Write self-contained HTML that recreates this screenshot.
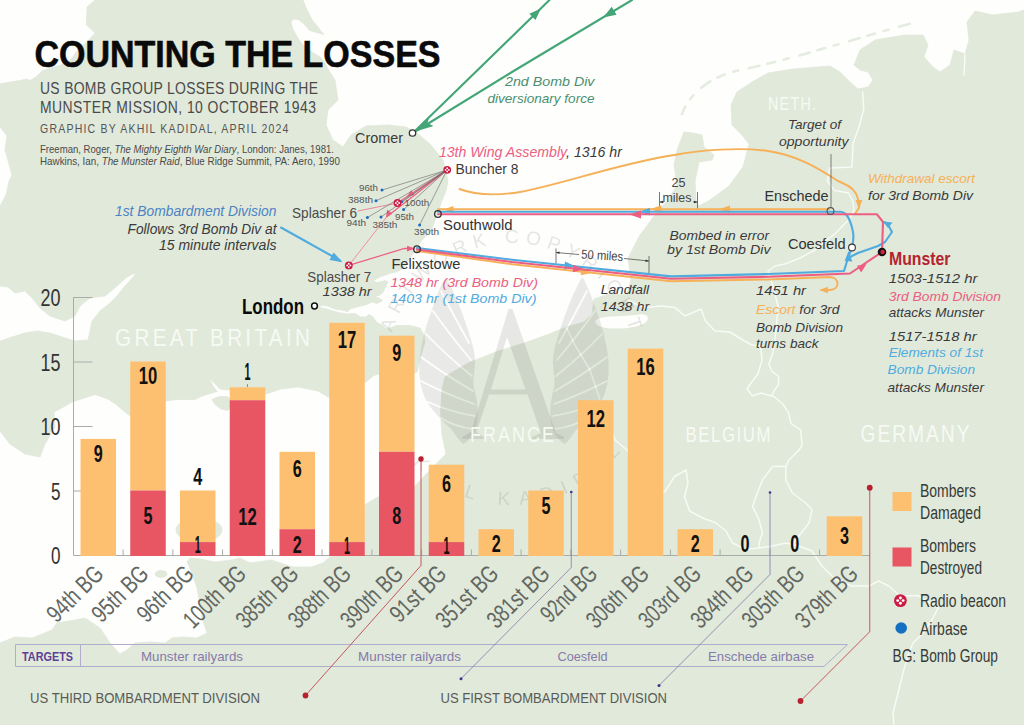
<!DOCTYPE html>
<html><head><meta charset="utf-8"><title>Counting the Losses</title>
<style>
html,body{margin:0;padding:0;background:#fefefd;}
svg{display:block;}
text{font-family:"Liberation Sans",sans-serif;}
.it{font-style:italic;}
.b{font-weight:bold;}
</style></head><body>
<svg width="1024" height="725" viewBox="0 0 1024 725">
<rect width="1024" height="725" fill="#fefefd"/>

<g fill="#e1e9da" stroke="#e1e9da" stroke-width="0.8" stroke-linejoin="round">
<polygon points="95,0 303,0 307,10 312,19.5 318.8,28.3 324,34.8 321.5,33.8 316,32.3 309,30.3 307,27.3 302.2,22.5 298.3,19.5 293.4,19 291,22.5 292.5,28.3 297.3,37.1 302.2,44 308,48.8 313,52.7 320.8,57.6 324.7,62.5 328.6,70 335,80 338,100 328,110 326,125 333,140 343,147 351,135 366,126 388,125 406,127 416,132 431,145 443,160 448,181 446,191 441,203 438,213 431,231 421,241 416.5,249 410,258 404.8,267.6 396.6,271.7 389.7,273.5 380,277 373,280.7 377,282.5 385.5,280.5 388,282 385.5,287 382.8,292.4 380,295 375,296.5 380,298.5 382.8,300.7 377,303.4 371.7,302 366,304.8 360.7,306 355,307.6 349.7,309 348,311.5 341.4,310 334.5,309 327.6,306 320,305.5 320,307.5 327,309 334.5,311.5 341,313 348,314 355,313.5 360.7,317 366,317 369,314.5 373,317 377,322.7 382.8,325.5 386,329 389.7,328 396.6,325.5 410,325.5 420,328 424,335 425,342 421,355 417,372 400,378 378,374 373,376 366,382 350,388 328,397 318,391 298,387 281,389 266,394 250,392 229,390 220,389 209,377.5 213,386 217,391.5 202,396 195,399.5 177,399.5 166,401 130,416 125,412 116.5,404.8 108,399 95,394.5 72,402 60,409 54,412 55,427 45,444 40,457 25,454 10,444 0,431 0,341 12,337 25,333 37,331 50,333 62,337 75,341 88,340 90,331 92,321 100,311 110,303 117,296 125,286 135,275 135,273 127,277 117,286 105,296 90,298 80,306 75,316 65,321 50,316 40,308 32,298 25,291 15,293 8,287 0,286 0,206 6,195 9,181 12,175 5,150 7,136 0,127 0,84 10,82 20,80.5 27,79 30,80.5 36,77 42.5,70.5 52,67.5 61,65 70,60.5 79,48.5 87,42 95,33 86.5,25 87,7"/>
<polygon points="1024,10 1024,725 0,725 0,643 15,637 32,638 52,630 57,623 75,620 85,618 100,628 110,643 120,654 127,650 135,643 150,642 165,643 172,638 182,637 197,638 207,633 202,618 200,605 197,588 192,573 187,562 190,558 200,559 215,562 232,560 240,558 250,563 271,560 293,567 311,567 323,563 330,557 340,535 366,504 378,497 414,487 430,470 446,454 442,435 440.5,412 442,389 445,377 453.5,371.5 468,363 497,351.5 526,342.5 549,334 566,327 584,322 592,314 594,299 607,294.5 627,294.5 631,280 628,258 640,235 655,215 668,200 677,185 674,165 677,150 684,132 693,133 702,135 704,147 714,155 712,160 699,162 695,181 696,200 699,206 710,200 729,186 743,167 749,144 742,135 732,125 731,105 737,92 752,82 768,73 793,69 830,66 840,72 850,82 858,89 868,87 873,80 868,72 860,70 854,65 860,50 875,40 905,35 923,35 928,45 924,57 933,67 940,72 950,65 954,50 965,54 969,40 967,22 975,11 993,15 1018,12"/>
<ellipse cx="199" cy="530" rx="23" ry="12"/>
<polygon points="212,399.5 219,396.5 227,396.5 232,400 231,406 228,410.5 221,409 215,404.5"/>
<ellipse cx="161" cy="574" rx="6" ry="3.5"/>
</g>
<path d="M596,320 C603,315 622,317 636,315 C645,313 650,316 647,321 C642,327 626,329 612,328.5 C602,328 593,325 596,320 Z" fill="#fefefd"/>
<path d="M682,114 C690,92 712,76 740,70 C790,60 850,40 916,22" fill="none" stroke="#e1e9da" stroke-width="2.6" stroke-dasharray="8 9 5 11 11 8" stroke-linecap="round" opacity="0.85"/>
<g fill="none" stroke="#f8faf5" stroke-width="1.5" stroke-linejoin="round" stroke-linecap="round">
<polyline points="862.6,92 863.8,108.6 859,127 853,143.7 852,167 829.8,168 827.5,181 834.5,190.6 848.6,193 853,202 854,211 848.5,220 841,227.4 836,232.8 827,240 815,250 800,258 785,264 775,266 768,271 773,286 778,306 776,331 773,352 769,364"/>
<polyline points="760.7,346 762,360 758,374 749.6,384.8 747,389 752.4,395.9 760.7,393 771.7,395.9 774.5,390 778.6,384.8 778.6,376.5 771.7,371 769,364"/>
<polyline points="628,300 640,306 647.6,307.6 661,306 675,307.6 684.8,315.9 692,313 701,309 705.5,321 715,331 730,332 741,339 752,345 760.7,346"/>
<polyline points="771.7,395.9 774.5,397 782.8,404 788.3,412.4 791,423.4 800.7,430 802,445.5 799,450 789,460 785.8,466.6"/>
<polyline points="785.8,466.6 772.5,466.6 762.5,480 756,496.4 752.6,506.4 759,519.7 762.5,533 759,543 759,548"/>
<polyline points="785.8,466.6 785.8,480 792.4,493 805.7,503 812,509.7 809,523 799,536 792.4,544.6"/>
<polyline points="566,327 575,345 590,370 600,400 615,440 627,450 640,470 655,490 664.5,492 674.5,476.5 686,470 688,483 684.5,496.4 689.5,511 702.8,518 716,523 726,531 732.6,543 746,549.6 759,548 772.5,546 785.8,543 799,546 812,551 822,566 835.6,579.5 852,586 868.8,586 878.7,581 888.7,586 900,596 918,595.5 938,608"/>
<polyline points="938,608 933,618 923,633 913,643 908,655.5 903,673 898,693 893,713 894,725"/>
<polyline points="965,54 964,75"/>
</g>
<defs><mask id="wingm" maskUnits="userSpaceOnUse" x="400" y="260" width="130" height="200">
<path d="M445.4,277 C440,287 436,297 432,310 C427,322 422,340 420,356 C418,372 420,388 426,400 C432,411 442,420 450,428 C455,433 458,440 463,444 C468,442 474,434 476,427 C479,415 478,402 474,388 C472,378 476,368 475,358 C474,348 471,340 468,330 C464,318 458,300 452,289 C450,284 447,279 445.4,277 Z" fill="#fff"/>
<g stroke="#000" stroke-width="1.7" fill="none" stroke-linecap="round">
<path d="M469,343 Q455,318 441,291"/>
<path d="M471,360 Q450,335 433,311"/>
<path d="M472,376 Q446,355 426,334"/>
<path d="M473,391 Q444,374 421,357"/>
<path d="M474,404 Q446,394 421,381"/>
<path d="M475,416 Q450,412 428,402"/>
<path d="M473,429 Q455,427 441,418"/>
</g></mask></defs>
<rect x="400" y="260" width="130" height="200" fill="#6e736c" opacity="0.14" mask="url(#wingm)"/>
<g transform="translate(1028,0) scale(-1,1)"><rect x="400" y="260" width="130" height="200" fill="#6e736c" opacity="0.14" mask="url(#wingm)"/></g>
<g opacity="0.16" fill="#6e736c" stroke="none">
<path d="M508.5,309 L512.5,309 L556,433 L564,437 L564,439 L532,439 L532,437 L541,433 L527.5,394.5 L489,394.5 L476.5,432 L484,437 L484,439 L462,439 L462,437 L471,432 Z M491,389.5 L525.5,389.5 L507,337 Z"/>
</g>
<defs><path id="wmtop" d="M392.3,332.8 A124,124 0 0 1 631.8,337.0"/><path id="wmbot" d="M398.5,446.2 A138,138 0 0 0 624.5,446.2"/></defs>
<g fill="#6e736c" opacity="0.17" font-size="19">
<text textLength="318" lengthAdjust="spacing"><textPath href="#wmtop">ARTWORK COPYRIGHT</textPath></text>
<text textLength="258" lengthAdjust="spacing"><textPath href="#wmbot">AKHIL KADIDAL</textPath></text>
</g>
<g stroke="#555" stroke-width="0.8" fill="none">
<path d="M659.5,192 V210 M697.5,192 V210 M659.5,202 H664 M693,202 H697.5"/>
<path d="M556,248.5 V263.5 M649,256 V273.5 M556,252.5 L579,254.5 M624,258.5 L649,261"/>
</g>
<path d="M659.5,202 l3.5,-1.3 v2.6z M697.5,202 l-3.5,-1.3 v2.6z M556,252.5 l3.6,-1 l-0.2,2.6z M649,261 l-3.6,1 l0.2,-2.6z" fill="#333"/>
<g stroke="#44a576" stroke-width="2.1" fill="none" stroke-linecap="round"><path d="M549.5,0 L416,130"/><path d="M632,0 L512,72 L416,131"/></g>
<g fill="#44a576">
<path d="M415.5,131.5 L429.5,116.5 L427.5,123 L433.5,126 Z"/>
<path transform="translate(541,8.5) rotate(-44.2)" d="M0,0 L-12,-4.4 L-12,4.4 Z"/>
<path transform="translate(603,17.4) rotate(149)" d="M0,0 L-13,-4.6 L-13,4.6 Z"/>
</g>
<g stroke="#f6b057" stroke-width="1.9" fill="none" stroke-linecap="round" stroke-linejoin="round">
<path d="M459.5,189 C475,195 495,196 520,192 C560,185 620,163 674.5,155 C700,150 740,147 768,151 C795,155 815,166 838,181 C850,186 859,190 859,208 L855.5,213"/>
<path d="M438,209.3 H829"/>
<path d="M417,251 L512,264.2 L671,281.2 L768,279.5 L830,277 C840,277.5 840,289.5 830,290 H824"/>
</g>
<g fill="#f6b057">
<path d="M859,209 l-3.4,-9 h6.8z"/>
<path d="M819,290 l9,-3.3 v6.6z"/>
<path transform="translate(443.5,209.5) rotate(180)" d="M0,0 L-10,-3.5 L-10,3.5 Z"/>
<path transform="translate(650.5,209.1) rotate(180)" d="M0,0 L-11,-3.8 L-11,3.8 Z"/>
<path transform="translate(719,209.3) rotate(180)" d="M0,0 L-11,-3.8 L-11,3.8 Z"/>
<path transform="translate(592,272.7) rotate(6.1)" d="M0,0 L-11,-3.8 L-11,3.8 Z"/>
</g>
<g stroke="#50abdf" stroke-width="2.1" fill="none" stroke-linecap="round" stroke-linejoin="round">
<path d="M438,211.8 H840 C848,212 851,222 853,232 C855,244 850,252 848,258"/>
<path d="M417,248 L512,259.8 L671,276.4 L768,274 L844,271 L848,258 L858,253 L878,246 L885,242 L892,232 L887,223 L883,222"/>
<path d="M281,227.5 L340,260.5"/>
</g>
<g fill="#50abdf">
<path transform="translate(639,211.8) rotate(180)" d="M0,0 L-11,-3.8 L-11,3.8 Z"/>
<path transform="translate(576,266.5) rotate(6.1)" d="M0,0 L-11.5,-3.9 L-11.5,3.9 Z"/>
<path d="M848.5,251 l3.8,10.5 l-7.6,-0.6z"/>
<path d="M883,221.5 l9.5,1 l-4.5,5.6z"/>
<path d="M342.5,262.3 l-13,-2.4 l4.2,-7.4z"/>
</g>
<g stroke="#ec5f82" stroke-width="2.1" fill="none" stroke-linecap="round" stroke-linejoin="round">
<path d="M438,214.3 H877 L883,222 L882,252 L850,273.5 L768,276.8 L671,278.8 L512,262 L417,249.5"/>
</g>
<g stroke="#ec5f82" stroke-width="1.2" fill="none" stroke-linecap="round" stroke-linejoin="round">
<path d="M447,170 L397.5,203"/>
<path d="M447,170 L387,216.5"/>
<path d="M387,216.5 L348.8,265.4" stroke-width="0.9" stroke="#f0859d"/>
<path d="M348.8,265.4 L404.5,248.4 L414,248.6"/>
<path d="M358,211 L397.5,203" stroke-width="0.7"/>
</g>
<g fill="#ec5f82">
<path transform="translate(629.5,214.5) rotate(180)" d="M0,0 L-11.5,-3.9 L-11.5,3.9 Z"/>
<path transform="translate(584,269.6) rotate(6.1)" d="M0,0 L-11,-3.8 L-11,3.8 Z"/>
<path d="M866.5,264 l-9.5,1.8 l4.2,6.6z"/>
<path d="M386,217.5 l1.2,-8 l5.2,4.2z"/>
<path d="M406.5,197 l7.8,-2.2 l-3,-4.6z"/>
<path d="M415,248.6 l-8,-2.9 l0,5.8z"/>
</g>
<g stroke="#666" stroke-width="0.6" fill="none">
<path d="M447,170 L382,190"/>
<path d="M447,170 L376,200.7"/>
<path d="M447,170 L367.4,217.6"/>
<path d="M447,170 L381,217"/>
<path d="M447,170 L401.7,201.7"/>
<path d="M447,170 L403.6,209.6"/>
<path d="M447,170 L419.6,225"/>
</g>
<g fill="#1f6bbd">
<circle cx="382" cy="190" r="1.5"/>
<circle cx="376" cy="200.7" r="1.5"/>
<circle cx="367.4" cy="217.6" r="1.5"/>
<circle cx="381" cy="217" r="1.5"/>
<circle cx="401.7" cy="201.7" r="1.5"/>
<circle cx="403.6" cy="209.6" r="1.5"/>
<circle cx="419.6" cy="225" r="1.5"/>
</g>
<g><circle cx="447.2" cy="169.8" r="3.9" fill="#cb1c44"/><g fill="#fff"><circle cx="447.2" cy="168.16" r="0.90"/><circle cx="447.2" cy="171.44" r="0.90"/><circle cx="445.56" cy="169.8" r="0.90"/><circle cx="448.84" cy="169.8" r="0.90"/></g></g>
<g><circle cx="397.5" cy="203" r="3.9" fill="#cb1c44"/><g fill="#fff"><circle cx="397.5" cy="201.36" r="0.90"/><circle cx="397.5" cy="204.64" r="0.90"/><circle cx="395.86" cy="203" r="0.90"/><circle cx="399.14" cy="203" r="0.90"/></g></g>
<g><circle cx="348.8" cy="265.4" r="3.9" fill="#cb1c44"/><g fill="#fff"><circle cx="348.8" cy="263.76" r="0.90"/><circle cx="348.8" cy="267.04" r="0.90"/><circle cx="347.16" cy="265.4" r="0.90"/><circle cx="350.44" cy="265.4" r="0.90"/></g></g>
<circle cx="412.5" cy="133" r="3.2" fill="#fff" stroke="#333" stroke-width="1.3"/>
<circle cx="437.9" cy="214" r="3.3" fill="none" stroke="#333" stroke-width="1.3"/>
<circle cx="417" cy="249.2" r="3.3" fill="none" stroke="#333" stroke-width="1.3"/>
<circle cx="314.5" cy="306" r="2.9" fill="#fff" stroke="#111" stroke-width="1.5"/>
<circle cx="830.5" cy="211" r="3.4" fill="none" stroke="#555" stroke-width="1.1"/>
<circle cx="852" cy="247.5" r="3.4" fill="#fff" stroke="#333" stroke-width="1.1"/>
<path d="M831,154 V207.5" stroke="#555" stroke-width="0.7"/>
<circle cx="882" cy="252" r="4.3" fill="#111"/><circle cx="882.6" cy="252" r="2.2" fill="#d4213f"/>
<g stroke="#ababab" stroke-width="1" fill="none">
<path d="M73.5,297 V555.5 H870"/>
<path d="M73.5,491.0 H92.5"/>
<path d="M73.5,426.5 H92.5"/>
<path d="M73.5,362.0 H92.5"/>
<path d="M73.5,297.5 H92.5"/>
<path d="M123.1,549.5 V555.5"/>
<path d="M172.9,549.5 V555.5"/>
<path d="M222.6,549.5 V555.5"/>
<path d="M272.4,549.5 V555.5"/>
<path d="M322.1,549.5 V555.5"/>
<path d="M371.9,549.5 V555.5"/>
<path d="M421.6,549.5 V555.5"/>
<path d="M471.4,549.5 V555.5"/>
<path d="M521.1,549.5 V555.5"/>
<path d="M570.9,549.5 V555.5"/>
<path d="M620.6,549.5 V555.5"/>
<path d="M670.4,549.5 V555.5"/>
<path d="M720.1,549.5 V555.5"/>
<path d="M769.9,549.5 V555.5"/>
<path d="M819.6,549.5 V555.5"/>
</g>
<text x="51.0" y="564.3" font-size="23.5" fill="#333" textLength="9.5" lengthAdjust="spacingAndGlyphs">0</text>
<text x="51.0" y="499.8" font-size="23.5" fill="#333" textLength="9.5" lengthAdjust="spacingAndGlyphs">5</text>
<text x="40.5" y="435.3" font-size="23.5" fill="#333" textLength="20" lengthAdjust="spacingAndGlyphs">10</text>
<text x="40.5" y="370.8" font-size="23.5" fill="#333" textLength="20" lengthAdjust="spacingAndGlyphs">15</text>
<text x="40.5" y="306.3" font-size="23.5" fill="#333" textLength="20" lengthAdjust="spacingAndGlyphs">20</text>
<rect x="80.50" y="438.90" width="35.5" height="117.10" fill="#fdc070"/>
<rect x="130.25" y="361.50" width="35.5" height="129.00" fill="#fdc070"/>
<rect x="130.25" y="490.50" width="35.5" height="65.50" fill="#e85563"/>
<rect x="180.00" y="490.50" width="35.5" height="51.60" fill="#fdc070"/>
<rect x="180.00" y="542.10" width="35.5" height="13.90" fill="#e85563"/>
<rect x="229.75" y="387.30" width="35.5" height="12.90" fill="#fdc070"/>
<rect x="229.75" y="400.20" width="35.5" height="155.80" fill="#e85563"/>
<rect x="279.50" y="451.80" width="35.5" height="77.40" fill="#fdc070"/>
<rect x="279.50" y="529.20" width="35.5" height="26.80" fill="#e85563"/>
<rect x="329.25" y="322.80" width="35.5" height="219.30" fill="#fdc070"/>
<rect x="329.25" y="542.10" width="35.5" height="13.90" fill="#e85563"/>
<rect x="379.00" y="335.70" width="35.5" height="116.10" fill="#fdc070"/>
<rect x="379.00" y="451.80" width="35.5" height="104.20" fill="#e85563"/>
<rect x="428.75" y="464.70" width="35.5" height="77.40" fill="#fdc070"/>
<rect x="428.75" y="542.10" width="35.5" height="13.90" fill="#e85563"/>
<rect x="478.50" y="529.20" width="35.5" height="26.80" fill="#fdc070"/>
<rect x="528.25" y="490.50" width="35.5" height="65.50" fill="#fdc070"/>
<rect x="578.00" y="400.20" width="35.5" height="155.80" fill="#fdc070"/>
<rect x="627.75" y="348.60" width="35.5" height="207.40" fill="#fdc070"/>
<rect x="677.50" y="529.20" width="35.5" height="26.80" fill="#fdc070"/>
<rect x="826.75" y="516.30" width="35.5" height="39.70" fill="#fdc070"/>
<text x="93.75" y="462.0" font-size="23.5" class="b" fill="#111" textLength="9" lengthAdjust="spacingAndGlyphs">9</text>
<text x="138.75" y="384.3" font-size="23.5" class="b" fill="#111" textLength="18.5" lengthAdjust="spacingAndGlyphs">10</text>
<text x="193.25" y="485.0" font-size="23.5" class="b" fill="#111" textLength="9" lengthAdjust="spacingAndGlyphs">4</text>
<text x="244.50" y="380.0" font-size="23.5" class="b" fill="#111" textLength="6" lengthAdjust="spacingAndGlyphs">1</text>
<text x="292.75" y="477.0" font-size="23.5" class="b" fill="#111" textLength="9" lengthAdjust="spacingAndGlyphs">6</text>
<text x="337.75" y="347.5" font-size="23.5" class="b" fill="#111" textLength="18.5" lengthAdjust="spacingAndGlyphs">17</text>
<text x="392.25" y="360.5" font-size="23.5" class="b" fill="#111" textLength="9" lengthAdjust="spacingAndGlyphs">9</text>
<text x="442.00" y="492.0" font-size="23.5" class="b" fill="#111" textLength="9" lengthAdjust="spacingAndGlyphs">6</text>
<text x="491.75" y="551.5" font-size="23.5" class="b" fill="#111" textLength="9" lengthAdjust="spacingAndGlyphs">2</text>
<text x="541.50" y="513.5" font-size="23.5" class="b" fill="#111" textLength="9" lengthAdjust="spacingAndGlyphs">5</text>
<text x="586.50" y="426.5" font-size="23.5" class="b" fill="#111" textLength="18.5" lengthAdjust="spacingAndGlyphs">12</text>
<text x="636.25" y="375.0" font-size="23.5" class="b" fill="#111" textLength="18.5" lengthAdjust="spacingAndGlyphs">16</text>
<text x="690.75" y="551.5" font-size="23.5" class="b" fill="#111" textLength="9" lengthAdjust="spacingAndGlyphs">2</text>
<text x="740.50" y="551.5" font-size="23.5" class="b" fill="#111" textLength="9" lengthAdjust="spacingAndGlyphs">0</text>
<text x="790.25" y="551.5" font-size="23.5" class="b" fill="#111" textLength="9" lengthAdjust="spacingAndGlyphs">0</text>
<text x="840.00" y="543.5" font-size="23.5" class="b" fill="#111" textLength="9" lengthAdjust="spacingAndGlyphs">3</text>
<text x="143.50" y="523.5" font-size="23.5" class="b" fill="#111" textLength="9" lengthAdjust="spacingAndGlyphs">5</text>
<text x="194.75" y="553.0" font-size="23.5" class="b" fill="#111" textLength="6" lengthAdjust="spacingAndGlyphs">1</text>
<text x="238.25" y="524.5" font-size="23.5" class="b" fill="#111" textLength="18.5" lengthAdjust="spacingAndGlyphs">12</text>
<text x="292.75" y="552.5" font-size="23.5" class="b" fill="#111" textLength="9" lengthAdjust="spacingAndGlyphs">2</text>
<text x="344.00" y="553.5" font-size="23.5" class="b" fill="#111" textLength="6" lengthAdjust="spacingAndGlyphs">1</text>
<text x="392.25" y="524.0" font-size="23.5" class="b" fill="#111" textLength="9" lengthAdjust="spacingAndGlyphs">8</text>
<text x="443.50" y="553.5" font-size="23.5" class="b" fill="#111" textLength="6" lengthAdjust="spacingAndGlyphs">1</text>
<path d="M247.5,384.3 V386.8" stroke="#555" stroke-width="0.7"/>
<text transform="translate(104.9,575.4) rotate(-45)" x="-68.5" y="0" font-size="24.5" fill="#626762" textLength="68.5" lengthAdjust="spacingAndGlyphs">94th BG</text>
<text transform="translate(150.0,575.4) rotate(-45)" x="-68.5" y="0" font-size="24.5" fill="#626762" textLength="68.5" lengthAdjust="spacingAndGlyphs">95th BG</text>
<text transform="translate(195.2,575.4) rotate(-45)" x="-68.5" y="0" font-size="24.5" fill="#626762" textLength="68.5" lengthAdjust="spacingAndGlyphs">96th BG</text>
<text transform="translate(247.5,575.4) rotate(-45)" x="-77" y="0" font-size="24.5" fill="#626762" textLength="77" lengthAdjust="spacingAndGlyphs">100th BG</text>
<text transform="translate(300.1,575.4) rotate(-45)" x="-77" y="0" font-size="24.5" fill="#626762" textLength="77" lengthAdjust="spacingAndGlyphs">385th BG</text>
<text transform="translate(352.4,575.4) rotate(-45)" x="-77" y="0" font-size="24.5" fill="#626762" textLength="77" lengthAdjust="spacingAndGlyphs">388th BG</text>
<text transform="translate(404.7,575.4) rotate(-45)" x="-77" y="0" font-size="24.5" fill="#626762" textLength="77" lengthAdjust="spacingAndGlyphs">390th BG</text>
<text transform="translate(448.0,575.4) rotate(-45)" x="-68.5" y="0" font-size="24.5" fill="#626762" textLength="68.5" lengthAdjust="spacingAndGlyphs">91st BG</text>
<text transform="translate(499.9,575.4) rotate(-45)" x="-77" y="0" font-size="24.5" fill="#626762" textLength="77" lengthAdjust="spacingAndGlyphs">351st BG</text>
<text transform="translate(551.1,575.4) rotate(-45)" x="-77" y="0" font-size="24.5" fill="#626762" textLength="77" lengthAdjust="spacingAndGlyphs">381st BG</text>
<text transform="translate(598.8,575.4) rotate(-45)" x="-68.5" y="0" font-size="24.5" fill="#626762" textLength="68.5" lengthAdjust="spacingAndGlyphs">92nd BG</text>
<text transform="translate(650.4,575.4) rotate(-45)" x="-77" y="0" font-size="24.5" fill="#626762" textLength="77" lengthAdjust="spacingAndGlyphs">306th BG</text>
<text transform="translate(702.6,575.4) rotate(-45)" x="-77" y="0" font-size="24.5" fill="#626762" textLength="77" lengthAdjust="spacingAndGlyphs">303rd BG</text>
<text transform="translate(754.9,575.4) rotate(-45)" x="-77" y="0" font-size="24.5" fill="#626762" textLength="77" lengthAdjust="spacingAndGlyphs">384th BG</text>
<text transform="translate(806.1,575.4) rotate(-45)" x="-77" y="0" font-size="24.5" fill="#626762" textLength="77" lengthAdjust="spacingAndGlyphs">305th BG</text>
<text transform="translate(859.5,575.4) rotate(-45)" x="-77" y="0" font-size="24.5" fill="#626762" textLength="77" lengthAdjust="spacingAndGlyphs">379th BG</text>
<g stroke="#b1accb" stroke-width="1" fill="none"><path d="M15.5,644.5 H847.5 L824,666.5 H15.5 Z"/><path d="M80.5,644.5 V666.5"/></g>
<text x="22" y="660.5" font-size="13" class="b" fill="#5d3f98" textLength="51" lengthAdjust="spacingAndGlyphs">TARGETS</text>
<text x="141" y="660.5" font-size="13.5" fill="#857aaa" textLength="102" lengthAdjust="spacingAndGlyphs">Munster railyards</text>
<text x="358" y="660.5" font-size="13.5" fill="#857aaa" textLength="103" lengthAdjust="spacingAndGlyphs">Munster railyards</text>
<text x="557.5" y="660.5" font-size="13.5" fill="#857aaa" textLength="50.0" lengthAdjust="spacingAndGlyphs">Coesfeld</text>
<text x="708" y="660.5" font-size="13.5" fill="#857aaa" textLength="106" lengthAdjust="spacingAndGlyphs">Enschede airbase</text>
<text x="30" y="702.5" font-size="14" fill="#585c58" textLength="230" lengthAdjust="spacingAndGlyphs">US THIRD BOMBARDMENT DIVISION</text>
<text x="440.5" y="702.5" font-size="14" fill="#585c58" textLength="226.5" lengthAdjust="spacingAndGlyphs">US FIRST BOMBARDMENT DIVISION</text>
<g fill="none" stroke="#c4565c" stroke-width="1"><path d="M421,459 V565.5 L305.5,695.5"/><path d="M869.75,487.75 V631.75 L800.5,701"/></g>
<g fill="#b7202e"><circle cx="421" cy="459" r="2.7"/><circle cx="305.5" cy="695.5" r="2.9"/><circle cx="869.75" cy="487.75" r="2.9"/><circle cx="800.5" cy="701" r="2.9"/></g>
<g fill="none" stroke="#7f79a8" stroke-width="0.8"><path d="M571.25,492 V567.5 L461,678.75"/><path d="M770,492.5 V574.5 L659,685.5"/></g>
<g fill="#3d3390"><circle cx="571.25" cy="492" r="1.3"/><circle cx="461" cy="678.75" r="1.5"/><circle cx="770" cy="492.5" r="1.3"/><circle cx="659" cy="685.5" r="1.5"/></g>
<rect x="892.5" y="492" width="19" height="19" fill="#fdc070"/>
<rect x="892.5" y="547.5" width="19" height="19" fill="#e85563"/>
<text x="920" y="496.5" font-size="18.8" fill="#363b37" textLength="56" lengthAdjust="spacingAndGlyphs">Bombers</text>
<text x="920" y="518.5" font-size="18.8" fill="#363b37" textLength="61" lengthAdjust="spacingAndGlyphs">Damaged</text>
<text x="920" y="552" font-size="18.8" fill="#363b37" textLength="56" lengthAdjust="spacingAndGlyphs">Bombers</text>
<text x="920" y="573.5" font-size="18.8" fill="#363b37" textLength="62" lengthAdjust="spacingAndGlyphs">Destroyed</text>
<text x="920" y="607" font-size="18.8" fill="#363b37" textLength="86" lengthAdjust="spacingAndGlyphs">Radio beacon</text>
<text x="920" y="635" font-size="18.8" fill="#363b37" textLength="47.5" lengthAdjust="spacingAndGlyphs">Airbase</text>
<text x="892.5" y="662" font-size="18.8" fill="#363b37" textLength="105.5" lengthAdjust="spacingAndGlyphs">BG: Bomb Group</text>
<circle cx="901.2" cy="628" r="5.8" fill="#1470c0"/>
<g><circle cx="900.4" cy="600.6" r="6.4" fill="#cb1c44"/><g fill="#fff"><circle cx="900.4" cy="597.91" r="1.47"/><circle cx="900.4" cy="603.29" r="1.47"/><circle cx="897.71" cy="600.6" r="1.47"/><circle cx="903.09" cy="600.6" r="1.47"/></g></g>
<text transform="translate(34.5,67) scale(0.9,1)" font-size="37.8" fill="#0a0a0a" textLength="451.11" lengthAdjust="spacing" class="b" stroke="#0a0a0a" stroke-width="0.6">COUNTING THE LOSSES</text>
<text transform="translate(40,93.9) scale(0.86,1)" font-size="16.2" fill="#4a4a4a" textLength="323.26" lengthAdjust="spacing">US BOMB GROUP LOSSES DURING THE</text>
<text transform="translate(40,112.5) scale(0.86,1)" font-size="16.2" fill="#4a4a4a" textLength="320.93" lengthAdjust="spacing">MUNSTER MISSION, 10 OCTOBER 1943</text>
<text transform="translate(40,132.5) scale(0.88,1)" font-size="12" fill="#555" textLength="282.39" lengthAdjust="spacing">GRAPHIC BY AKHIL KADIDAL, APRIL 2024</text>
<text x="40" y="153.3" font-size="10.3" fill="#4a4a4a" textLength="294" lengthAdjust="spacingAndGlyphs">Freeman, Roger, <tspan class="it">The Mighty Eighth War Diary</tspan>, London: Janes, 1981.</text>
<text x="40" y="165.2" font-size="10.3" fill="#4a4a4a" textLength="300" lengthAdjust="spacingAndGlyphs">Hawkins, Ian, <tspan class="it">The Munster Raid</tspan>, Blue Ridge Summit, PA: Aero, 1990</text>
<text transform="translate(115,346) scale(0.88,1)" font-size="23.5" fill="#f7faf4" textLength="221.59" lengthAdjust="spacing">GREAT BRITAIN</text>
<text transform="translate(470,442) scale(0.8,1)" font-size="22.5" fill="#f7faf4" textLength="105.00" lengthAdjust="spacing">FRANCE</text>
<text transform="translate(685.5,441.5) scale(0.78,1)" font-size="21.5" fill="#f7faf4" textLength="108.97" lengthAdjust="spacing">BELGIUM</text>
<text transform="translate(860.5,442) scale(0.8,1)" font-size="24" fill="#f7faf4" textLength="136.25" lengthAdjust="spacing">GERMANY</text>
<text transform="translate(768,110) scale(0.82,1)" font-size="17.5" fill="#f7faf4" textLength="58.54" lengthAdjust="spacing">NETH.</text>
<text x="242" y="314" font-size="22" fill="#0a0a0a" textLength="62" lengthAdjust="spacingAndGlyphs" class="b">London</text>
<text x="355" y="142.5" font-size="15" fill="#3a3a3a" textLength="48" lengthAdjust="spacingAndGlyphs">Cromer</text>
<text x="455.5" y="173.8" font-size="14.5" fill="#3a3a3a" textLength="63" lengthAdjust="spacingAndGlyphs">Buncher 8</text>
<text x="292" y="218" font-size="15" fill="#4a4a4a" textLength="65" lengthAdjust="spacingAndGlyphs">Splasher 6</text>
<text x="443" y="230.2" font-size="15.5" fill="#333" textLength="69.5" lengthAdjust="spacingAndGlyphs">Southwold</text>
<text x="391.4" y="268.8" font-size="14.5" fill="#333" textLength="69" lengthAdjust="spacingAndGlyphs">Felixstowe</text>
<text x="307.3" y="282" font-size="14.5" fill="#4a4a4a" textLength="64" lengthAdjust="spacingAndGlyphs">Splasher 7</text>
<text x="764.5" y="201" font-size="14.5" fill="#333" textLength="64" lengthAdjust="spacingAndGlyphs">Enschede</text>
<text x="788" y="249" font-size="14.5" fill="#333" textLength="57.5" lengthAdjust="spacingAndGlyphs">Coesfeld</text>
<text x="889" y="264.7" font-size="18" fill="#b5232f" textLength="61.5" lengthAdjust="spacingAndGlyphs" class="b">Munster</text>
<text x="438.9" y="157" font-size="13.8" class="it" textLength="183" lengthAdjust="spacingAndGlyphs"><tspan fill="#ec5f82">13th Wing Assembly</tspan><tspan fill="#3a3a3a">, 1316 hr</tspan></text>
<text x="390.4" y="286.7" font-size="13.5" fill="#ec5f82" textLength="147.5" lengthAdjust="spacingAndGlyphs" class="it">1348 hr (3rd Bomb Div)</text>
<text x="390.4" y="303.3" font-size="13.5" fill="#50abdf" textLength="146" lengthAdjust="spacingAndGlyphs" class="it">1403 hr (1st Bomb Div)</text>
<text x="322.6" y="296" font-size="13.5" fill="#3a3a3a" textLength="49" lengthAdjust="spacingAndGlyphs" class="it">1338 hr</text>
<text x="115" y="216" font-size="14" fill="#4c83c4" textLength="161.5" lengthAdjust="spacingAndGlyphs" class="it">1st Bombardment Division</text>
<text x="127.5" y="233.5" font-size="14" fill="#3a3a3a" textLength="149" lengthAdjust="spacingAndGlyphs" class="it">Follows 3rd Bomb Div at</text>
<text x="159" y="250" font-size="14" fill="#3a3a3a" textLength="117.5" lengthAdjust="spacingAndGlyphs" class="it">15 minute intervals</text>
<text x="505" y="86" font-size="13.5" fill="#4a9070" textLength="89.5" lengthAdjust="spacingAndGlyphs" class="it">2nd Bomb Div</text>
<text x="487.5" y="103" font-size="13.5" fill="#4a9070" textLength="107" lengthAdjust="spacingAndGlyphs" class="it">diversionary force</text>
<text x="600.7" y="293.5" font-size="13.5" fill="#3a3a3a" textLength="48.5" lengthAdjust="spacingAndGlyphs" class="it">Landfall</text>
<text x="600.7" y="311" font-size="13.5" fill="#3a3a3a" textLength="48.5" lengthAdjust="spacingAndGlyphs" class="it">1438 hr</text>
<text x="669.5" y="239.7" font-size="13.5" fill="#3a3a3a" textLength="99.5" lengthAdjust="spacingAndGlyphs" class="it">Bombed in error</text>
<text x="667" y="253.5" font-size="13.5" fill="#3a3a3a" textLength="103.5" lengthAdjust="spacingAndGlyphs" class="it">by 1st Bomb Div</text>
<text x="788" y="129" font-size="13.5" fill="#3a3a3a" textLength="53" lengthAdjust="spacingAndGlyphs" class="it">Target of</text>
<text x="779" y="145.5" font-size="13.5" fill="#3a3a3a" textLength="69.5" lengthAdjust="spacingAndGlyphs" class="it">opportunity</text>
<text x="868" y="182.5" font-size="13.5" fill="#f6b057" textLength="107" lengthAdjust="spacingAndGlyphs" class="it">Withdrawal escort</text>
<text x="868" y="199.7" font-size="13.5" fill="#3a3a3a" textLength="105" lengthAdjust="spacingAndGlyphs" class="it">for 3rd Bomb Div</text>
<text x="888.7" y="283" font-size="13.5" fill="#3a3a3a" textLength="88.8" lengthAdjust="spacingAndGlyphs" class="it">1503-1512 hr</text>
<text x="888.7" y="300.5" font-size="13.5" fill="#ec5f82" textLength="112.3" lengthAdjust="spacingAndGlyphs" class="it">3rd Bomb Division</text>
<text x="888.7" y="317.2" font-size="13.5" fill="#3a3a3a" textLength="95.3" lengthAdjust="spacingAndGlyphs" class="it">attacks Munster</text>
<text x="888.7" y="340.5" font-size="13.5" fill="#3a3a3a" textLength="88" lengthAdjust="spacingAndGlyphs" class="it">1517-1518 hr</text>
<text x="888.7" y="357.2" font-size="13.5" fill="#50abdf" textLength="94.3" lengthAdjust="spacingAndGlyphs" class="it">Elements of 1st</text>
<text x="887.5" y="374" font-size="13.5" fill="#50abdf" textLength="87.5" lengthAdjust="spacingAndGlyphs" class="it">Bomb Division</text>
<text x="887.5" y="391.5" font-size="13.5" fill="#3a3a3a" textLength="96.5" lengthAdjust="spacingAndGlyphs" class="it">attacks Munster</text>
<text x="756" y="295" font-size="13.5" fill="#3a3a3a" textLength="50" lengthAdjust="spacingAndGlyphs" class="it">1451 hr</text>
<text x="756" y="314" font-size="13.5" class="it" textLength="83.5" lengthAdjust="spacingAndGlyphs"><tspan fill="#f6b057">Escort</tspan><tspan fill="#3a3a3a"> for 3rd</tspan></text>
<text x="756" y="331.5" font-size="13.5" fill="#3a3a3a" textLength="87" lengthAdjust="spacingAndGlyphs" class="it">Bomb Division</text>
<text x="756" y="348" font-size="13.5" fill="#3a3a3a" textLength="62.5" lengthAdjust="spacingAndGlyphs" class="it">turns back</text>
<text x="671.5" y="187" font-size="12.5" fill="#444" textLength="14" lengthAdjust="spacingAndGlyphs">25</text>
<text x="662.5" y="202.3" font-size="12.5" fill="#444" textLength="29" lengthAdjust="spacingAndGlyphs">miles</text>
<text transform="translate(581,258.5) rotate(3.5)" x="0" y="0" font-size="13" fill="#444" textLength="42" lengthAdjust="spacingAndGlyphs">50 miles</text>
<text x="359" y="191.4" font-size="9.5" fill="#555" textLength="19" lengthAdjust="spacingAndGlyphs">96th</text>
<text x="348" y="203" font-size="9.5" fill="#555" textLength="25" lengthAdjust="spacingAndGlyphs">388th</text>
<text x="346.5" y="226" font-size="9.5" fill="#555" textLength="19.5" lengthAdjust="spacingAndGlyphs">94th</text>
<text x="372.4" y="228" font-size="9.5" fill="#555" textLength="25" lengthAdjust="spacingAndGlyphs">385th</text>
<text x="404.6" y="206.3" font-size="9.5" fill="#555" textLength="24.5" lengthAdjust="spacingAndGlyphs">100th</text>
<text x="395" y="219.6" font-size="9.5" fill="#555" textLength="19" lengthAdjust="spacingAndGlyphs">95th</text>
<text x="414" y="234.5" font-size="9.5" fill="#555" textLength="25" lengthAdjust="spacingAndGlyphs">390th</text>
</svg></body></html>
